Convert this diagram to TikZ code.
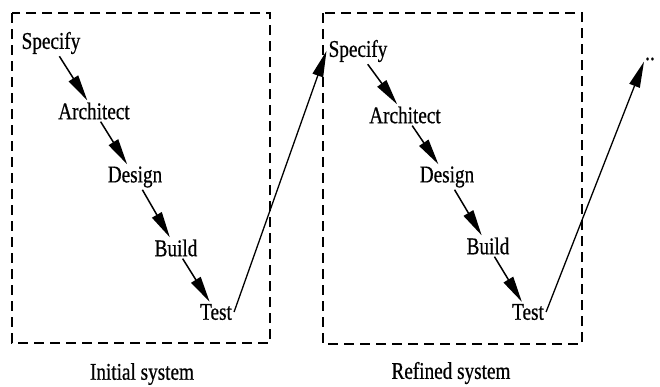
\documentclass[tikz,border=0pt]{standalone}
\usepackage{fontspec}
\setmainfont{Liberation Serif}[FakeStretch=0.8,FakeBold=0.6]
\usetikzlibrary{arrows.meta}
\tikzset{
  stage/.style={inner sep=2pt, font=\fontsize{24}{28}\selectfont},
  phase/.style={draw, dash pattern=on 10pt off 6pt, line width=1.9pt},
  flow/.style={-{Triangle[length=26pt,width=11pt]}, line width=1.5pt},
  iterate/.style={-{Triangle[length=26pt,width=11pt]}, line width=1.3pt}
}
\begin{document}
\begin{tikzpicture}[x=1pt,y=-1pt]
\useasboundingbox (0,0) rectangle (660,386);
% first pass
\draw[phase] (12,13) rectangle (270,343);
\node[stage] (s1) at (51,43) {Specify};
\node[stage] (a1) at (94,111) {Architect};
\node[stage] (d1) at (135,177) {Design};
\node[stage] (b1) at (176,248) {Build};
\node[stage] (t1) at (216,312) {Test};
\node[stage] (c1) at (142,374) {Initial system};
\draw[flow] (s1) -- (a1);
\draw[flow] (a1) -- (d1);
\draw[flow] (d1) -- (b1);
\draw[flow] (b1) -- (t1);
% second pass
\draw[phase] (323,13) rectangle (582,344);
\node[stage] (s2) at (358,51) {Specify};
\node[stage] (a2) at (405,115) {Architect};
\node[stage] (d2) at (447,177) {Design};
\node[stage] (b2) at (488,246) {Build};
\node[stage] (t2) at (528,312) {Test};
\node[stage] (c2) at (451,373) {Refined system};
\draw[flow] (s2) -- (a2);
\draw[flow] (a2) -- (d2);
\draw[flow] (d2) -- (b2);
\draw[flow] (b2) -- (t2);
% iterations
\node[stage, inner sep=1pt] (more) at (650,59) {..};
\draw[iterate] (t1.east) -- (s2.west);
\draw[iterate] (t2.east) -- (more.south west);
\end{tikzpicture}
\end{document}
